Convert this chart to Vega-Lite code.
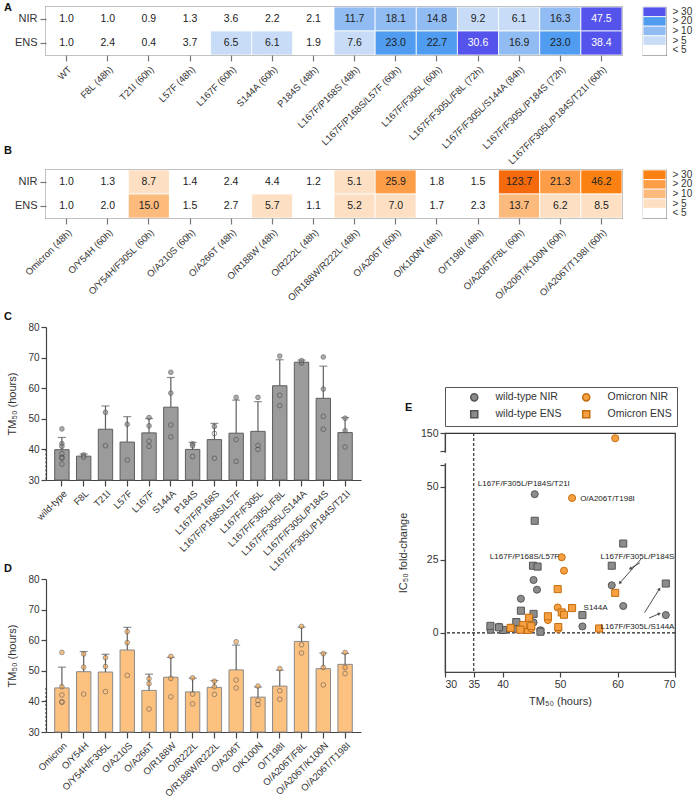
{
"$schema": "https://vega.github.io/schema/vega-lite/v6.json",
"padding": {"left": 3, "top": 0, "right": 2, "bottom": 2},
"background": "white",
"config": {
  "font": "Liberation Sans",
  "view": {"stroke": null},
  "axis": {"labelFontSize": 10, "labelColor": "#333", "titleFontSize": 11, "titleFontWeight": "normal", "titleColor": "#333", "domainColor": "#444", "tickColor": "#444", "grid": false, "domainWidth": 1.2, "tickWidth": 1.2},
  "title": {"fontSize": 11, "fontWeight": "bold", "anchor": "start", "frame": "group", "baseline": "alphabetic", "color": "#111", "dx": -42},
  "legend": {"labelFontSize": 10, "labelColor": "#333"}
},
"datasets": {
  "hmA": [
    {"v":"WT","a":"NIR","fc":1.0},{"v":"WT","a":"ENS","fc":1.0},
    {"v":"F8L (48h)","a":"NIR","fc":1.0},{"v":"F8L (48h)","a":"ENS","fc":2.4},
    {"v":"T21I (60h)","a":"NIR","fc":0.9},{"v":"T21I (60h)","a":"ENS","fc":0.4},
    {"v":"L57F (48h)","a":"NIR","fc":1.3},{"v":"L57F (48h)","a":"ENS","fc":3.7},
    {"v":"L167F (60h)","a":"NIR","fc":3.6},{"v":"L167F (60h)","a":"ENS","fc":6.5},
    {"v":"S144A (60h)","a":"NIR","fc":2.2},{"v":"S144A (60h)","a":"ENS","fc":6.1},
    {"v":"P184S (48h)","a":"NIR","fc":2.1},{"v":"P184S (48h)","a":"ENS","fc":1.9},
    {"v":"L167F/P168S (48h)","a":"NIR","fc":11.7},{"v":"L167F/P168S (48h)","a":"ENS","fc":7.6},
    {"v":"L167F/P168S/L57F (60h)","a":"NIR","fc":18.1},{"v":"L167F/P168S/L57F (60h)","a":"ENS","fc":23.0},
    {"v":"L167F/F305L (60h)","a":"NIR","fc":14.8},{"v":"L167F/F305L (60h)","a":"ENS","fc":22.7},
    {"v":"L167F/F305L/F8L (72h)","a":"NIR","fc":9.2},{"v":"L167F/F305L/F8L (72h)","a":"ENS","fc":30.6},
    {"v":"L167F/F305L/S144A (84h)","a":"NIR","fc":6.1},{"v":"L167F/F305L/S144A (84h)","a":"ENS","fc":16.9},
    {"v":"L167F/F305L/P184S (72h)","a":"NIR","fc":16.3},{"v":"L167F/F305L/P184S (72h)","a":"ENS","fc":23.0},
    {"v":"L167F/F305L/P184S/T21I (60h)","a":"NIR","fc":47.5},{"v":"L167F/F305L/P184S/T21I (60h)","a":"ENS","fc":38.4}
  ],
  "hmB": [
    {"v":"Omicron (48h)","a":"NIR","fc":1.0},{"v":"Omicron (48h)","a":"ENS","fc":1.0},
    {"v":"O/Y54H (60h)","a":"NIR","fc":1.3},{"v":"O/Y54H (60h)","a":"ENS","fc":2.0},
    {"v":"O/Y54H/F305L (60h)","a":"NIR","fc":8.7},{"v":"O/Y54H/F305L (60h)","a":"ENS","fc":15.0},
    {"v":"O/A210S (60h)","a":"NIR","fc":1.4},{"v":"O/A210S (60h)","a":"ENS","fc":1.5},
    {"v":"O/A266T (48h)","a":"NIR","fc":2.4},{"v":"O/A266T (48h)","a":"ENS","fc":2.7},
    {"v":"O/R188W (48h)","a":"NIR","fc":4.4},{"v":"O/R188W (48h)","a":"ENS","fc":5.7},
    {"v":"O/R222L (48h)","a":"NIR","fc":1.2},{"v":"O/R222L (48h)","a":"ENS","fc":1.1},
    {"v":"O/R188W/R222L (48h)","a":"NIR","fc":5.1},{"v":"O/R188W/R222L (48h)","a":"ENS","fc":5.2},
    {"v":"O/A206T (60h)","a":"NIR","fc":25.9},{"v":"O/A206T (60h)","a":"ENS","fc":7.0},
    {"v":"O/K100N (48h)","a":"NIR","fc":1.8},{"v":"O/K100N (48h)","a":"ENS","fc":1.7},
    {"v":"O/T198I (48h)","a":"NIR","fc":1.5},{"v":"O/T198I (48h)","a":"ENS","fc":2.3},
    {"v":"O/A206T/F8L (60h)","a":"NIR","fc":123.7},{"v":"O/A206T/F8L (60h)","a":"ENS","fc":13.7},
    {"v":"O/A206T/K100N (60h)","a":"NIR","fc":21.3},{"v":"O/A206T/K100N (60h)","a":"ENS","fc":6.2},
    {"v":"O/A206T/T198I (60h)","a":"NIR","fc":46.2},{"v":"O/A206T/T198I (60h)","a":"ENS","fc":8.5}
  ],
  "bins": [{"lab":"> 30"},{"lab":"> 20"},{"lab":"> 10"},{"lab":"> 5"},{"lab":"< 5"}],
  "barC": [
    {"v":"wild-type","m":39.9,"hi":43.9},{"v":"F8L","m":37.8,"hi":38.5},{"v":"T21I","m":46.6,"hi":54.2},
    {"v":"L57F","m":42.4,"hi":50.7},{"v":"L167F","m":45.4,"hi":50.1},{"v":"S144A","m":53.8,"hi":63.5},
    {"v":"P184S","m":40.0,"hi":42.3},{"v":"L167F/P168S","m":43.2,"hi":48.5},{"v":"L167F/P168S/L57F","m":45.3,"hi":56.1},
    {"v":"L167F/F305L","m":45.9,"hi":55.6},{"v":"L167F/F305L/F8L","m":60.8,"hi":69.3},{"v":"L167F/F305L/S144A","m":68.5,"hi":69.2},
    {"v":"L167F/F305L/P184S","m":56.7,"hi":67.2},{"v":"L167F/F305L/P184S/T21I","m":45.5,"hi":50.4}
  ],
  "ptC": [
    {"v":"wild-type","y":46.7,"k":"f"},{"v":"wild-type","y":41.9,"k":"f"},{"v":"wild-type","y":41.0,"k":"f"},{"v":"wild-type","y":38.6,"k":"o"},{"v":"wild-type","y":37.4,"k":"o"},{"v":"wild-type","y":37.1,"k":"o"},{"v":"wild-type","y":35.2,"k":"o"},
    {"v":"F8L","y":38.2,"k":"f"},{"v":"F8L","y":37.5,"k":"f"},
    {"v":"T21I","y":52.1,"k":"f"},{"v":"T21I","y":41.2,"k":"o"},
    {"v":"L57F","y":48.2,"k":"f"},{"v":"L57F","y":36.5,"k":"o"},
    {"v":"L167F","y":50.4,"k":"f"},{"v":"L167F","y":47.7,"k":"f"},{"v":"L167F","y":42.7,"k":"o"},{"v":"L167F","y":41.0,"k":"o"},
    {"v":"S144A","y":65.2,"k":"f"},{"v":"S144A","y":58.4,"k":"f"},{"v":"S144A","y":48.0,"k":"o"},{"v":"S144A","y":44.1,"k":"o"},
    {"v":"P184S","y":41.8,"k":"f"},{"v":"P184S","y":41.2,"k":"f"},{"v":"P184S","y":37.7,"k":"o"},
    {"v":"L167F/P168S","y":47.5,"k":"f"},{"v":"L167F/P168S","y":45.2,"k":"o"},{"v":"L167F/P168S","y":37.1,"k":"o"},
    {"v":"L167F/P168S/L57F","y":57.0,"k":"f"},{"v":"L167F/P168S/L57F","y":43.2,"k":"o"},{"v":"L167F/P168S/L57F","y":36.1,"k":"o"},
    {"v":"L167F/F305L","y":57.0,"k":"f"},{"v":"L167F/F305L","y":41.3,"k":"o"},{"v":"L167F/F305L","y":40.0,"k":"o"},
    {"v":"L167F/F305L/F8L","y":70.5,"k":"f"},{"v":"L167F/F305L/F8L","y":57.7,"k":"o"},{"v":"L167F/F305L/F8L","y":54.3,"k":"o"},
    {"v":"L167F/F305L/S144A","y":68.2,"k":"f"},{"v":"L167F/F305L/S144A","y":69.0,"k":"f"},
    {"v":"L167F/F305L/P184S","y":70.2,"k":"f"},{"v":"L167F/F305L/P184S","y":59.7,"k":"f"},{"v":"L167F/F305L/P184S","y":50.8,"k":"o"},{"v":"L167F/F305L/P184S","y":46.6,"k":"o"},
    {"v":"L167F/F305L/P184S/T21I","y":50.2,"k":"f"},{"v":"L167F/F305L/P184S/T21I","y":46.1,"k":"f"},{"v":"L167F/F305L/P184S/T21I","y":40.8,"k":"o"}
  ],
  "barD": [
    {"v":"Omicron","m":44.4,"hi":51.2},{"v":"O/Y54H","m":49.7,"hi":56.3},{"v":"O/Y54H/F305L","m":49.6,"hi":55.4},
    {"v":"O/A210S","m":56.8,"hi":64.2},{"v":"O/A266T","m":43.6,"hi":48.9},{"v":"O/R188W","m":47.9,"hi":54.4},
    {"v":"O/R222L","m":43.1,"hi":47.6},{"v":"O/R188W/R222L","m":44.6,"hi":46.8},{"v":"O/A206T","m":50.3,"hi":58.4},
    {"v":"O/K100N","m":41.4,"hi":44.7},{"v":"O/T198I","m":45.0,"hi":50.2},{"v":"O/A206T/F8L","m":59.6,"hi":64.3},
    {"v":"O/A206T/K100N","m":50.7,"hi":55.8},{"v":"O/A206T/T198I","m":52.1,"hi":55.7}
  ],
  "ptD": [
    {"v":"Omicron","y":56.0,"k":"f"},{"v":"Omicron","y":44.8,"k":"f"},{"v":"Omicron","y":42.1,"k":"o"},{"v":"Omicron","y":39.9,"k":"o"},{"v":"Omicron","y":39.7,"k":"o"},
    {"v":"O/Y54H","y":55.5,"k":"f"},{"v":"O/Y54H","y":51.2,"k":"f"},{"v":"O/Y54H","y":42.4,"k":"o"},
    {"v":"O/Y54H/F305L","y":54.3,"k":"f"},{"v":"O/Y54H/F305L","y":51.4,"k":"f"},{"v":"O/Y54H/F305L","y":43.2,"k":"o"},
    {"v":"O/A210S","y":62.8,"k":"f"},{"v":"O/A210S","y":59.2,"k":"f"},{"v":"O/A210S","y":48.5,"k":"o"},
    {"v":"O/A266T","y":47.4,"k":"f"},{"v":"O/A266T","y":45.8,"k":"f"},{"v":"O/A266T","y":37.5,"k":"o"},
    {"v":"O/R188W","y":54.7,"k":"f"},{"v":"O/R188W","y":47.5,"k":"f"},{"v":"O/R188W","y":41.5,"k":"o"},
    {"v":"O/R222L","y":47.7,"k":"f"},{"v":"O/R222L","y":42.4,"k":"o"},{"v":"O/R222L","y":39.2,"k":"o"},
    {"v":"O/R188W/R222L","y":46.6,"k":"f"},{"v":"O/R188W/R222L","y":44.8,"k":"f"},{"v":"O/R188W/R222L","y":42.3,"k":"o"},
    {"v":"O/A206T","y":59.5,"k":"f"},{"v":"O/A206T","y":47.0,"k":"o"},{"v":"O/A206T","y":44.4,"k":"o"},
    {"v":"O/K100N","y":45.0,"k":"f"},{"v":"O/K100N","y":40.3,"k":"o"},{"v":"O/K100N","y":39.0,"k":"o"},
    {"v":"O/T198I","y":50.7,"k":"f"},{"v":"O/T198I","y":43.5,"k":"o"},{"v":"O/T198I","y":40.7,"k":"o"},
    {"v":"O/A206T/F8L","y":64.5,"k":"f"},{"v":"O/A206T/F8L","y":58.5,"k":"o"},{"v":"O/A206T/F8L","y":55.8,"k":"o"},
    {"v":"O/A206T/K100N","y":55.6,"k":"f"},{"v":"O/A206T/K100N","y":51.1,"k":"f"},{"v":"O/A206T/K100N","y":45.4,"k":"o"},
    {"v":"O/A206T/T198I","y":56.0,"k":"f"},{"v":"O/A206T/T198I","y":51.1,"k":"f"},{"v":"O/A206T/T198I","y":49.1,"k":"o"}
  ],
  "sc": [
    {"s":"wild-type NIR","v":"WT","tm":40.1,"fc":1.0},{"s":"wild-type ENS","v":"WT","tm":40.1,"fc":1.0},
    {"s":"wild-type NIR","v":"F8L","tm":37.9,"fc":1.0},{"s":"wild-type ENS","v":"F8L","tm":37.9,"fc":2.4},
    {"s":"wild-type NIR","v":"T21I","tm":46.6,"fc":0.9},{"s":"wild-type ENS","v":"T21I","tm":46.6,"fc":0.4},
    {"s":"wild-type NIR","v":"L57F","tm":42.4,"fc":1.3},{"s":"wild-type ENS","v":"L57F","tm":42.4,"fc":3.7},
    {"s":"wild-type NIR","v":"L167F","tm":45.4,"fc":3.6},{"s":"wild-type ENS","v":"L167F","tm":45.4,"fc":6.5},
    {"s":"wild-type NIR","v":"S144A","tm":53.9,"fc":2.2},{"s":"wild-type ENS","v":"S144A","tm":53.9,"fc":6.1},
    {"s":"wild-type NIR","v":"P184S","tm":39.4,"fc":2.1},{"s":"wild-type ENS","v":"P184S","tm":39.4,"fc":1.9},
    {"s":"wild-type NIR","v":"L167F/P168S","tm":43.2,"fc":11.7},{"s":"wild-type ENS","v":"L167F/P168S","tm":43.2,"fc":7.6},
    {"s":"wild-type NIR","v":"L167F/P168S/L57F","tm":45.4,"fc":18.1},{"s":"wild-type ENS","v":"L167F/P168S/L57F","tm":45.3,"fc":23.0},
    {"s":"wild-type NIR","v":"L167F/F305L","tm":46.0,"fc":14.8},{"s":"wild-type ENS","v":"L167F/F305L","tm":46.1,"fc":22.7},
    {"s":"wild-type NIR","v":"L167F/F305L/F8L","tm":61.0,"fc":9.2},{"s":"wild-type ENS","v":"L167F/F305L/F8L","tm":61.0,"fc":30.6},
    {"s":"wild-type NIR","v":"L167F/F305L/S144A","tm":68.4,"fc":6.1},{"s":"wild-type ENS","v":"L167F/F305L/S144A","tm":68.4,"fc":16.9},
    {"s":"wild-type NIR","v":"L167F/F305L/P184S","tm":59.0,"fc":16.3},{"s":"wild-type ENS","v":"L167F/F305L/P184S","tm":59.0,"fc":23.0},
    {"s":"wild-type NIR","v":"L167F/F305L/P184S/T21I","tm":45.6,"fc":47.5},{"s":"wild-type ENS","v":"L167F/F305L/P184S/T21I","tm":45.6,"fc":38.4},
    {"s":"Omicron NIR","v":"Omicron","tm":44.4,"fc":1.0},{"s":"Omicron ENS","v":"Omicron","tm":44.4,"fc":1.0},
    {"s":"Omicron NIR","v":"O/Y54H","tm":49.7,"fc":1.3},{"s":"Omicron ENS","v":"O/Y54H","tm":49.7,"fc":2.0},
    {"s":"Omicron NIR","v":"O/Y54H/F305L","tm":49.6,"fc":8.7},{"s":"Omicron ENS","v":"O/Y54H/F305L","tm":49.6,"fc":15.0},
    {"s":"Omicron NIR","v":"O/A210S","tm":56.8,"fc":1.4},{"s":"Omicron ENS","v":"O/A210S","tm":56.8,"fc":1.5},
    {"s":"Omicron NIR","v":"O/A266T","tm":43.6,"fc":2.4},{"s":"Omicron ENS","v":"O/A266T","tm":43.6,"fc":2.7},
    {"s":"Omicron NIR","v":"O/R188W","tm":47.9,"fc":4.4},{"s":"Omicron ENS","v":"O/R188W","tm":47.9,"fc":5.7},
    {"s":"Omicron NIR","v":"O/R222L","tm":43.1,"fc":1.2},{"s":"Omicron ENS","v":"O/R222L","tm":43.1,"fc":1.1},
    {"s":"Omicron NIR","v":"O/R188W/R222L","tm":44.6,"fc":5.1},{"s":"Omicron ENS","v":"O/R188W/R222L","tm":44.6,"fc":5.2},
    {"s":"Omicron NIR","v":"O/A206T","tm":50.3,"fc":25.9},{"s":"Omicron ENS","v":"O/A206T","tm":50.3,"fc":7.0},
    {"s":"Omicron NIR","v":"O/K100N","tm":41.4,"fc":1.8},{"s":"Omicron ENS","v":"O/K100N","tm":41.4,"fc":1.7},
    {"s":"Omicron NIR","v":"O/T198I","tm":45.0,"fc":1.5},{"s":"Omicron ENS","v":"O/T198I","tm":45.0,"fc":2.3},
    {"s":"Omicron NIR","v":"O/A206T/F8L","tm":59.6,"fc":123.7},{"s":"Omicron ENS","v":"O/A206T/F8L","tm":59.6,"fc":13.7},
    {"s":"Omicron NIR","v":"O/A206T/K100N","tm":50.7,"fc":21.3},{"s":"Omicron ENS","v":"O/A206T/K100N","tm":50.7,"fc":6.2},
    {"s":"Omicron NIR","v":"O/A206T/T198I","tm":52.1,"fc":46.2},{"s":"Omicron ENS","v":"O/A206T/T198I","tm":52.1,"fc":8.5}
  ],
  "notesL": [
    {"t":"L167F/F305L/P184S/T21I","tm":35.7,"fc":51.0},
    {"t":"O/A206T/T198I","tm":53.5,"fc":46.0},
    {"t":"L167F/P168S/L57F","tm":37.8,"fc":26.1},
    {"t":"S144A","tm":54.1,"fc":8.5}
  ],
  "notesR": [
    {"t":"L167F/F305L/P184S","tm":69.9,"fc":26.1},
    {"t":"L167F/F305L/S144A","tm":69.9,"fc":2.0}
  ],
  "arrows": [
    {"tm":63.9,"fc":24.0,"tm2":62.2,"fc2":22.0},
    {"tm":64.1,"fc":25.3,"tm2":60.4,"fc2":17.1},
    {"tm":64.7,"fc":6.9,"tm2":67.3,"fc2":15.1},
    {"tm":65.5,"fc":5.1,"tm2":67.3,"fc2":6.6}
  ]
},
"resolve": {"scale": {"color": "independent", "shape": "independent", "stroke": "independent"}, "legend": {"color": "independent", "shape": "independent", "stroke": "independent"}},
"spacing": -24,
"vconcat": [
  {
    "spacing": 18,
    "resolve": {"scale": {"color": "independent"}, "legend": {"color": "independent"}},
    "hconcat": [
      {
        "width": 576, "height": 48,
        "title": {"text": "A", "offset": 0, "dy": 6},
        "data": {"name": "hmA"},
        "view": {"stroke": "#7a7a7a", "strokeWidth": 1.5},
        "encoding": {
          "x": {"field": "v", "type": "nominal", "sort": null, "title": null, "axis": {"labelAngle": -45, "domain": false, "tickSize": 6, "tickColor": "#777", "labelPadding": 3, "labelFontSize": 9.5}},
          "y": {"field": "a", "type": "nominal", "sort": ["NIR", "ENS"], "title": null, "axis": {"domain": false, "tickSize": 6, "tickColor": "#777", "labelFontSize": 11, "labelPadding": 3}}
        },
        "layer": [
          {"mark": {"type": "rect", "stroke": "white", "strokeWidth": 0.8},
           "encoding": {"color": {"field": "fc", "type": "quantitative", "legend": null,
             "scale": {"type": "threshold", "domain": [5, 10, 20, 30], "range": ["#ffffff", "#c8dcf7", "#90bcf3", "#4f9cf0", "#5454ec"]}}}},
          {"mark": {"type": "text", "fontSize": 10.5},
           "encoding": {"text": {"field": "fc", "type": "quantitative", "format": ".1f"},
             "color": {"condition": {"test": "datum.fc > 30", "value": "white"}, "value": "#222"}}}
        ]
      },
      {
        "width": 23, "height": 48,
        "data": {"name": "bins"},
        "view": {"stroke": "#7a7a7a", "strokeWidth": 1.2},
        "mark": {"type": "rect", "stroke": "white", "strokeWidth": 0.8},
        "encoding": {
          "y": {"field": "lab", "type": "nominal", "sort": null, "title": null, "axis": {"orient": "right", "domain": false, "ticks": false, "labelPadding": 6, "labelFontSize": 10}},
          "color": {"field": "lab", "type": "nominal", "legend": null,
            "scale": {"domain": ["> 30", "> 20", "> 10", "> 5", "< 5"], "range": ["#5454ec", "#4f9cf0", "#90bcf3", "#c8dcf7", "#ffffff"]}}
        }
      }
    ]
  },
  {
    "spacing": 7,
    "resolve": {"scale": {"color": "independent", "shape": "independent", "stroke": "independent"}, "legend": {"color": "independent", "shape": "independent", "stroke": "independent"}},
    "vconcat": [
      {
        "spacing": 18,
        "resolve": {"scale": {"color": "independent"}, "legend": {"color": "independent"}},
        "hconcat": [
          {
            "width": 576, "height": 48,
            "title": {"text": "B", "offset": 14},
            "data": {"name": "hmB"},
            "view": {"stroke": "#7a7a7a", "strokeWidth": 1.5},
            "encoding": {
              "x": {"field": "v", "type": "nominal", "sort": null, "title": null, "axis": {"labelAngle": -45, "domain": false, "tickSize": 6, "tickColor": "#777", "labelPadding": 3, "labelFontSize": 9.5}},
              "y": {"field": "a", "type": "nominal", "sort": ["NIR", "ENS"], "title": null, "axis": {"domain": false, "tickSize": 6, "tickColor": "#777", "labelFontSize": 11, "labelPadding": 3}}
            },
            "layer": [
              {"mark": {"type": "rect", "stroke": "white", "strokeWidth": 0.8},
               "encoding": {"color": {"field": "fc", "type": "quantitative", "legend": null,
                 "scale": {"type": "threshold", "domain": [5, 10, 20, 30, 100], "range": ["#ffffff", "#fde0c3", "#fdba7d", "#fd9d47", "#fb8212", "#f46a0c"]}}}},
              {"mark": {"type": "text", "fontSize": 10.5, "color": "#222"},
               "encoding": {"text": {"field": "fc", "type": "quantitative", "format": ".1f"}}}
            ]
          },
          {
            "width": 23, "height": 48,
            "data": {"name": "bins"},
            "view": {"stroke": "#7a7a7a", "strokeWidth": 1.2},
            "mark": {"type": "rect", "stroke": "white", "strokeWidth": 0.8},
            "encoding": {
              "y": {"field": "lab", "type": "nominal", "sort": null, "title": null, "axis": {"orient": "right", "domain": false, "ticks": false, "labelPadding": 6, "labelFontSize": 10}},
              "color": {"field": "lab", "type": "nominal", "legend": null,
                "scale": {"domain": ["> 30", "> 20", "> 10", "> 5", "< 5"], "range": ["#fb8212", "#fd9d47", "#fdba7d", "#fde0c3", "#ffffff"]}}
            }
          }
        ]
      },
      {
        "spacing": 35,
        "resolve": {"scale": {"color": "independent", "shape": "independent", "stroke": "independent"}, "legend": {"color": "independent", "shape": "independent", "stroke": "independent"}},
        "hconcat": [
          {
            "spacing": -10,
            "vconcat": [
              {
                "width": 315, "height": 153,
                "title": {"text": "C", "offset": 0},
                "encoding": {"x": {"field": "v", "type": "nominal", "title": null,
                  "scale": {"domain": ["wild-type","F8L","T21I","L57F","L167F","S144A","P184S","L167F/P168S","L167F/P168S/L57F","L167F/F305L","L167F/F305L/F8L","L167F/F305L/S144A","L167F/F305L/P184S","L167F/F305L/P184S/T21I"], "paddingInner": 0.34, "paddingOuter": 0.4},
                  "axis": {"labelAngle": -45, "tickSize": 6, "labelPadding": 2, "labelFontSize": 9.5}}},
                "layer": [
                  {"data": {"name": "barC"}, "mark": {"type": "bar", "fill": "#9b9b9b", "stroke": "#5e5e5e", "strokeWidth": 1},
                   "encoding": {"y": {"field": "m", "type": "quantitative", "title": "TM₅₀ (hours)", "scale": {"domain": [30, 80], "nice": false, "zero": false}, "axis": {"values": [30, 40, 50, 60, 70, 80], "labelOverlap": false, "tickSize": 5, "titlePadding": 10}}, "y2": {"datum": 30}}},
                  {"data": {"name": "barC"}, "mark": {"type": "rule", "color": "#5e5e5e", "strokeWidth": 1.2},
                   "encoding": {"y": {"field": "m", "type": "quantitative", "title": "TM₅₀ (hours)", "axis": {"values": [30, 40, 50, 60, 70, 80], "labelOverlap": false, "tickSize": 5, "titlePadding": 10}}, "y2": {"field": "hi"}}},
                  {"data": {"name": "barC"}, "mark": {"type": "tick", "color": "#5e5e5e", "thickness": 1.2, "size": 8},
                   "encoding": {"y": {"field": "hi", "type": "quantitative", "title": "TM₅₀ (hours)", "axis": {"values": [30, 40, 50, 60, 70, 80], "labelOverlap": false, "tickSize": 5, "titlePadding": 10}}}},
                  {"data": {"name": "ptC"}, "mark": {"type": "point", "filled": true, "size": 22, "stroke": "#444", "strokeWidth": 0.8},
                   "encoding": {"y": {"field": "y", "type": "quantitative", "title": "TM₅₀ (hours)", "axis": {"values": [30, 40, 50, 60, 70, 80], "labelOverlap": false, "tickSize": 5, "titlePadding": 10}},
                     "fill": {"condition": {"test": "datum.k == 'f'", "value": "#8a8a8a"}, "value": "transparent"}}},
                  {"data": {"values": [{}]}, "mark": {"type": "rule", "strokeDash": [2, 2], "color": "#333", "strokeWidth": 1},
                   "encoding": {"y": {"datum": 40, "axis": {"values": [30, 40, 50, 60, 70, 80], "labelOverlap": false, "tickSize": 5, "titlePadding": 10}}}}
                ]
              },
              {
                "width": 315, "height": 153,
                "title": {"text": "D", "offset": 0},
                "encoding": {"x": {"field": "v", "type": "nominal", "title": null,
                  "scale": {"domain": ["Omicron","O/Y54H","O/Y54H/F305L","O/A210S","O/A266T","O/R188W","O/R222L","O/R188W/R222L","O/A206T","O/K100N","O/T198I","O/A206T/F8L","O/A206T/K100N","O/A206T/T198I"], "paddingInner": 0.34, "paddingOuter": 0.4},
                  "axis": {"labelAngle": -45, "tickSize": 6, "labelPadding": 2, "labelFontSize": 9.5}}},
                "layer": [
                  {"data": {"name": "barD"}, "mark": {"type": "bar", "fill": "#fcc07f", "stroke": "#8a8a8a", "strokeWidth": 1},
                   "encoding": {"y": {"field": "m", "type": "quantitative", "title": "TM₅₀ (hours)", "scale": {"domain": [30, 80], "nice": false, "zero": false}, "axis": {"values": [30, 40, 50, 60, 70, 80], "labelOverlap": false, "tickSize": 5, "titlePadding": 10}}, "y2": {"datum": 30}}},
                  {"data": {"name": "barD"}, "mark": {"type": "rule", "color": "#5e5e5e", "strokeWidth": 1.2},
                   "encoding": {"y": {"field": "m", "type": "quantitative", "title": "TM₅₀ (hours)", "axis": {"values": [30, 40, 50, 60, 70, 80], "labelOverlap": false, "tickSize": 5, "titlePadding": 10}}, "y2": {"field": "hi"}}},
                  {"data": {"name": "barD"}, "mark": {"type": "tick", "color": "#5e5e5e", "thickness": 1.2, "size": 8},
                   "encoding": {"y": {"field": "hi", "type": "quantitative", "title": "TM₅₀ (hours)", "axis": {"values": [30, 40, 50, 60, 70, 80], "labelOverlap": false, "tickSize": 5, "titlePadding": 10}}}},
                  {"data": {"name": "ptD"}, "mark": {"type": "point", "filled": true, "size": 22, "stroke": "#555", "strokeWidth": 0.8},
                   "encoding": {"y": {"field": "y", "type": "quantitative", "title": "TM₅₀ (hours)", "axis": {"values": [30, 40, 50, 60, 70, 80], "labelOverlap": false, "tickSize": 5, "titlePadding": 10}},
                     "fill": {"condition": {"test": "datum.k == 'f'", "value": "#f6a84f"}, "value": "transparent"}}},
                  {"data": {"values": [{}]}, "mark": {"type": "rule", "strokeDash": [2, 2], "color": "#333", "strokeWidth": 1},
                   "encoding": {"y": {"datum": 44.4, "axis": {"values": [30, 40, 50, 60, 70, 80], "labelOverlap": false, "tickSize": 5, "titlePadding": 10}}}}
                ]
              }
            ]
          },
          {
            "spacing": 0,
            "resolve": {"scale": {"color": "independent", "shape": "independent", "stroke": "independent"}, "legend": {"color": "independent", "shape": "independent", "stroke": "independent"}},
            "vconcat": [
              {"width": 1, "height": 58, "data": {"values": []}, "mark": "point"},
              {
                "width": 230, "height": 239,
                "title": {"text": "E", "dx": -40, "dy": 30},
                "view": {"stroke": "#333", "strokeWidth": 1.2},
                "layer": [
                  {"data": {"values": [{}]}, "mark": {"type": "rule", "strokeDash": [3, 2], "color": "#222", "strokeWidth": 1.1},
                   "encoding": {"x": {"datum": 35}}},
                  {"data": {"values": [{}]}, "mark": {"type": "rule", "strokeDash": [3, 2], "color": "#222", "strokeWidth": 1.1},
                   "encoding": {"y": {"datum": 0}}},
                  {"data": {"values": [{}]}, "mark": {"type": "rule", "color": "white", "strokeWidth": 3},
                   "encoding": {"x": {"datum": 30}, "y": {"datum": 57.8}, "y2": {"datum": 59.7}}},
                  {"data": {"name": "sc"}, "mark": {"type": "point", "filled": true, "size": 50, "strokeWidth": 1, "opacity": 1},
                   "encoding": {
                     "x": {"field": "tm", "type": "quantitative", "title": "TM₅₀ (hours)", "scale": {"domain": [30, 70], "nice": false, "zero": false},
                       "axis": {"values": [30, 35, 40, 50, 60, 70], "tickSize": 5, "labelFontSize": 10.5, "titlePadding": 6,
                         "encode": {"labels": {"update": {
                           "angle": {"signal": "datum.value === 35 ? -90 : 0"},
                           "align": {"signal": "datum.value === 35 ? 'right' : 'center'"},
                           "baseline": {"signal": "datum.value === 35 ? 'middle' : 'top'"},
                           "fontSize": {"signal": "datum.value === 35 ? 9.5 : 10.5"}}}}}},
                     "y": {"field": "fc", "type": "quantitative", "title": "IC₅₀ fold-change",
                       "scale": {"domain": [-13.4, 57.5, 60, 150], "range": [239, 32, 18, 0], "nice": false, "zero": false},
                       "axis": {"values": [0, 25, 50, 57.5, 60, 150], "labelExpr": "datum.value == 57.5 || datum.value == 60 ? '' : datum.label", "tickSize": 5, "labelFontSize": 10.5, "titlePadding": 12}},
                     "color": {"field": "s", "type": "nominal",
                       "scale": {"domain": ["wild-type NIR", "Omicron NIR", "wild-type ENS", "Omicron ENS"], "range": ["#8c8c8c", "#f7a041", "#8c8c8c", "#f7a041"]},
                       "legend": {"orient": "top", "title": null, "columns": 2, "direction": "horizontal", "strokeColor": "#555", "padding": 5,
                         "symbolSize": 50, "labelFontSize": 10.5, "columnPadding": -14, "rowPadding": 3, "offset": 7, "labelOffset": 16, "symbolOffset": 19}},
                     "shape": {"field": "s", "type": "nominal",
                       "scale": {"domain": ["wild-type NIR", "Omicron NIR", "wild-type ENS", "Omicron ENS"], "range": ["circle", "circle", "square", "square"]},
                       "legend": {"orient": "top", "title": null, "columns": 2, "direction": "horizontal", "strokeColor": "#555", "padding": 5,
                         "symbolSize": 50, "labelFontSize": 10.5, "columnPadding": -14, "rowPadding": 3, "offset": 7, "labelOffset": 16, "symbolOffset": 19}},
                     "stroke": {"field": "s", "type": "nominal",
                       "scale": {"domain": ["wild-type NIR", "Omicron NIR", "wild-type ENS", "Omicron ENS"], "range": ["#555555", "#c46d10", "#555555", "#c46d10"]},
                       "legend": {"orient": "top", "title": null, "columns": 2, "direction": "horizontal", "strokeColor": "#555", "padding": 5,
                         "symbolSize": 50, "labelFontSize": 10.5, "columnPadding": -14, "rowPadding": 3, "offset": 7, "labelOffset": 16, "symbolOffset": 19}}
                   }},
                  {"data": {"name": "notesL"}, "mark": {"type": "text", "align": "left", "baseline": "middle", "fontSize": 8, "color": "#222"},
                   "encoding": {"x": {"field": "tm", "type": "quantitative"}, "y": {"field": "fc", "type": "quantitative"}, "text": {"field": "t"}}},
                  {"data": {"name": "notesR"}, "mark": {"type": "text", "align": "right", "baseline": "middle", "fontSize": 8, "color": "#222"},
                   "encoding": {"x": {"field": "tm", "type": "quantitative"}, "y": {"field": "fc", "type": "quantitative"}, "text": {"field": "t"}}},
                  {"data": {"name": "arrows"}, "mark": {"type": "rule", "color": "#222", "strokeWidth": 0.8},
                   "encoding": {"x": {"field": "tm", "type": "quantitative"}, "y": {"field": "fc", "type": "quantitative"}, "x2": {"field": "tm2"}, "y2": {"field": "fc2"}}},
                  {"data": {"values": [{}]}, "mark": {"type": "point", "shape": "triangle-up", "filled": true, "size": 14, "color": "#222", "angle": 239},
                   "encoding": {"x": {"datum": 62.2}, "y": {"datum": 22.0}}},
                  {"data": {"values": [{}]}, "mark": {"type": "point", "shape": "triangle-up", "filled": true, "size": 14, "color": "#222", "angle": 221},
                   "encoding": {"x": {"datum": 60.4}, "y": {"datum": 17.1}}},
                  {"data": {"values": [{}]}, "mark": {"type": "point", "shape": "triangle-up", "filled": true, "size": 14, "color": "#222", "angle": 32},
                   "encoding": {"x": {"datum": 67.3}, "y": {"datum": 15.1}}},
                  {"data": {"values": [{}]}, "mark": {"type": "point", "shape": "triangle-up", "filled": true, "size": 14, "color": "#222", "angle": 67},
                   "encoding": {"x": {"datum": 67.3}, "y": {"datum": 6.6}}}
                ]
              }
            ]
          }
        ]
      }
    ]
  }
]
}
